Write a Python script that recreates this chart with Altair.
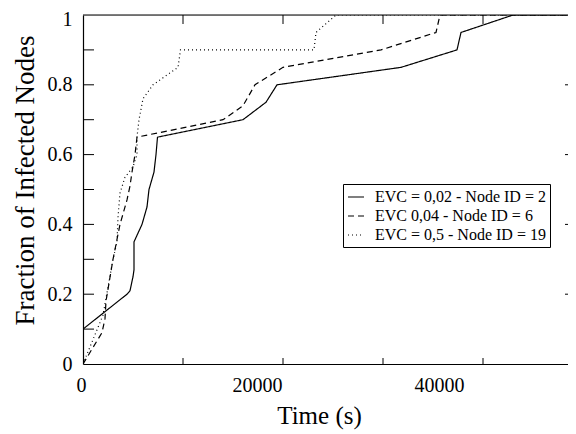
import altair as alt
import pandas as pd

series_names = ["EVC = 0,02 - Node ID = 2", "EVC 0,04 - Node ID = 6", "EVC = 0,5 - Node ID = 19"]

solid_x = [0, 4400, 4700, 5000, 5100, 5100, 5900, 6400, 6600, 7100, 7300, 7450,
           16000, 18300, 19400, 31800, 37400, 37800, 43000, 48500]
solid_y = [0.1, 0.2, 0.21, 0.25, 0.27, 0.35, 0.4, 0.45, 0.5, 0.55, 0.6, 0.65,
           0.7, 0.75, 0.8, 0.85, 0.9, 0.95, 1.0, 1.0]

dashed_x = [0, 1900, 2200, 2300, 3000, 3700, 4400, 4700, 4900, 5200, 5400,
            14000, 16000, 17200, 20000, 29800, 35300, 35700, 48500]
dashed_y = [0.0, 0.09, 0.13, 0.18, 0.3, 0.4, 0.47, 0.51, 0.55, 0.6, 0.65,
            0.7, 0.74, 0.8, 0.85, 0.9, 0.95, 1.0, 1.0]

dotted_x = [0, 1000, 2000, 3000, 3400, 3500, 3700, 4200, 5000, 5400, 5400, 5600,
            6000, 7000, 8500, 9500, 9750, 23100, 23300, 25300, 48500]
dotted_y = [0.0, 0.07, 0.14, 0.3, 0.35, 0.42, 0.49, 0.535, 0.565, 0.6, 0.65, 0.7,
            0.76, 0.8, 0.83, 0.85, 0.9, 0.9, 0.95, 1.0, 1.0]

x_labels = [0, 20000, 40000]
x_ticks = [10000, 20000, 30000, 40000]
y_labels = [0, 0.2, 0.4, 0.6, 0.8, 1.0]
y_ticks = [0.1, 0.2, 0.3, 0.4, 0.5, 0.6, 0.7, 0.8, 0.9]
y_right_ticks = [0.2, 0.4, 0.6, 0.8]

rows = []
for name, xs, ys in zip(series_names, [solid_x, dashed_x, dotted_x], [solid_y, dashed_y, dotted_y]):
    for i, (xv, yv) in enumerate(zip(xs, ys)):
        rows.append({"series": name, "t": xv, "f": yv, "i": i})
df = pd.DataFrame(rows)

W, H = 485, 349
FONT = "Liberation Serif"

xscale = alt.Scale(domain=[0, 48500], nice=False, zero=False)
yscale = alt.Scale(domain=[0, 1], nice=False)

lines = alt.Chart(df).mark_line(color="black", strokeWidth=1.2, clip=True).encode(
    x=alt.X("t:Q", scale=xscale,
            axis=alt.Axis(values=x_labels, title="Time (s)", grid=False, ticks=False,
                          domainColor="black", domainWidth=1.2,
                          labelFont=FONT, labelFontSize=20, labelColor="black",
                          labelPadding=11, format="d",
                          labelOffset={"condition": [
                              {"test": "datum.value == 20000", "value": -26},
                              {"test": "datum.value == 40000", "value": -44}],
                              "value": -7},
                          titleFont=FONT, titleFontSize=25, titleFontWeight="normal",
                          titleColor="black", titlePadding=8, titleX=236)),
    y=alt.Y("f:Q", scale=yscale,
            axis=alt.Axis(values=y_labels, title="Fraction of Infected Nodes", grid=False,
                          ticks=False, domainColor="black", domainWidth=1.2,
                          labelFont=FONT, labelFontSize=20, labelColor="black",
                          labelPadding=11, format="~g",
                          labelOffset={"condition": {"test": "datum.value == 1", "value": 4},
                                       "value": 0},
                          titleFont=FONT, titleFontSize=27, titleFontWeight="normal",
                          titleColor="black", titlePadding=8, titleY=165)),
    strokeDash=alt.StrokeDash("series:N",
                              scale=alt.Scale(domain=series_names,
                                              range=[[1, 0], [6, 4], [1, 3]]),
                              legend=alt.Legend(title=None, orient="none", legendX=260, legendY=169,
                                                strokeColor="black", fillColor="white",
                                                padding=4, symbolType="stroke", symbolSize=256,
                                                symbolStrokeColor="black", symbolStrokeWidth=1.2,
                                                labelFont=FONT, labelFontSize=16, labelLimit=400,
                                                labelColor="black", labelOffset=10,
                                                rowPadding=2)),
    order="i:Q",
)

top_border = alt.Chart(pd.DataFrame({"a": [0]})).mark_rule(color="black", strokeWidth=1.2).encode(
    x=alt.value(0), x2=alt.value(W), y=alt.value(0)
)

left_ticks = alt.Chart(pd.DataFrame({"v": y_ticks})).mark_rule(color="black", strokeWidth=1).encode(
    y=alt.Y("v:Q", scale=yscale), x=alt.value(0), x2=alt.value(11)
)
right_ticks = alt.Chart(pd.DataFrame({"v": y_right_ticks})).mark_rule(color="black", strokeWidth=1).encode(
    y=alt.Y("v:Q", scale=yscale), x=alt.value(W - 3), x2=alt.value(W)
)
top_ticks = alt.Chart(pd.DataFrame({"v": x_ticks})).mark_rule(color="black", strokeWidth=1).encode(
    x=alt.X("v:Q", scale=xscale), y=alt.value(0), y2=alt.value(9)
)
bottom_ticks = alt.Chart(pd.DataFrame({"v": x_ticks})).mark_rule(color="black", strokeWidth=1).encode(
    x=alt.X("v:Q", scale=xscale), y=alt.value(H - 6), y2=alt.value(H)
)

chart = alt.layer(lines, top_border, left_ticks, right_ticks, top_ticks, bottom_ticks).properties(
    width=W, height=H,
    autosize=alt.AutoSizeParams(type="none"),
    padding={"left": 75, "top": 7, "right": 0, "bottom": 69},
).configure_view(stroke=None).configure(background="white")

chart.save("out.html", embed_options={"renderer": "svg", "actions": False})
